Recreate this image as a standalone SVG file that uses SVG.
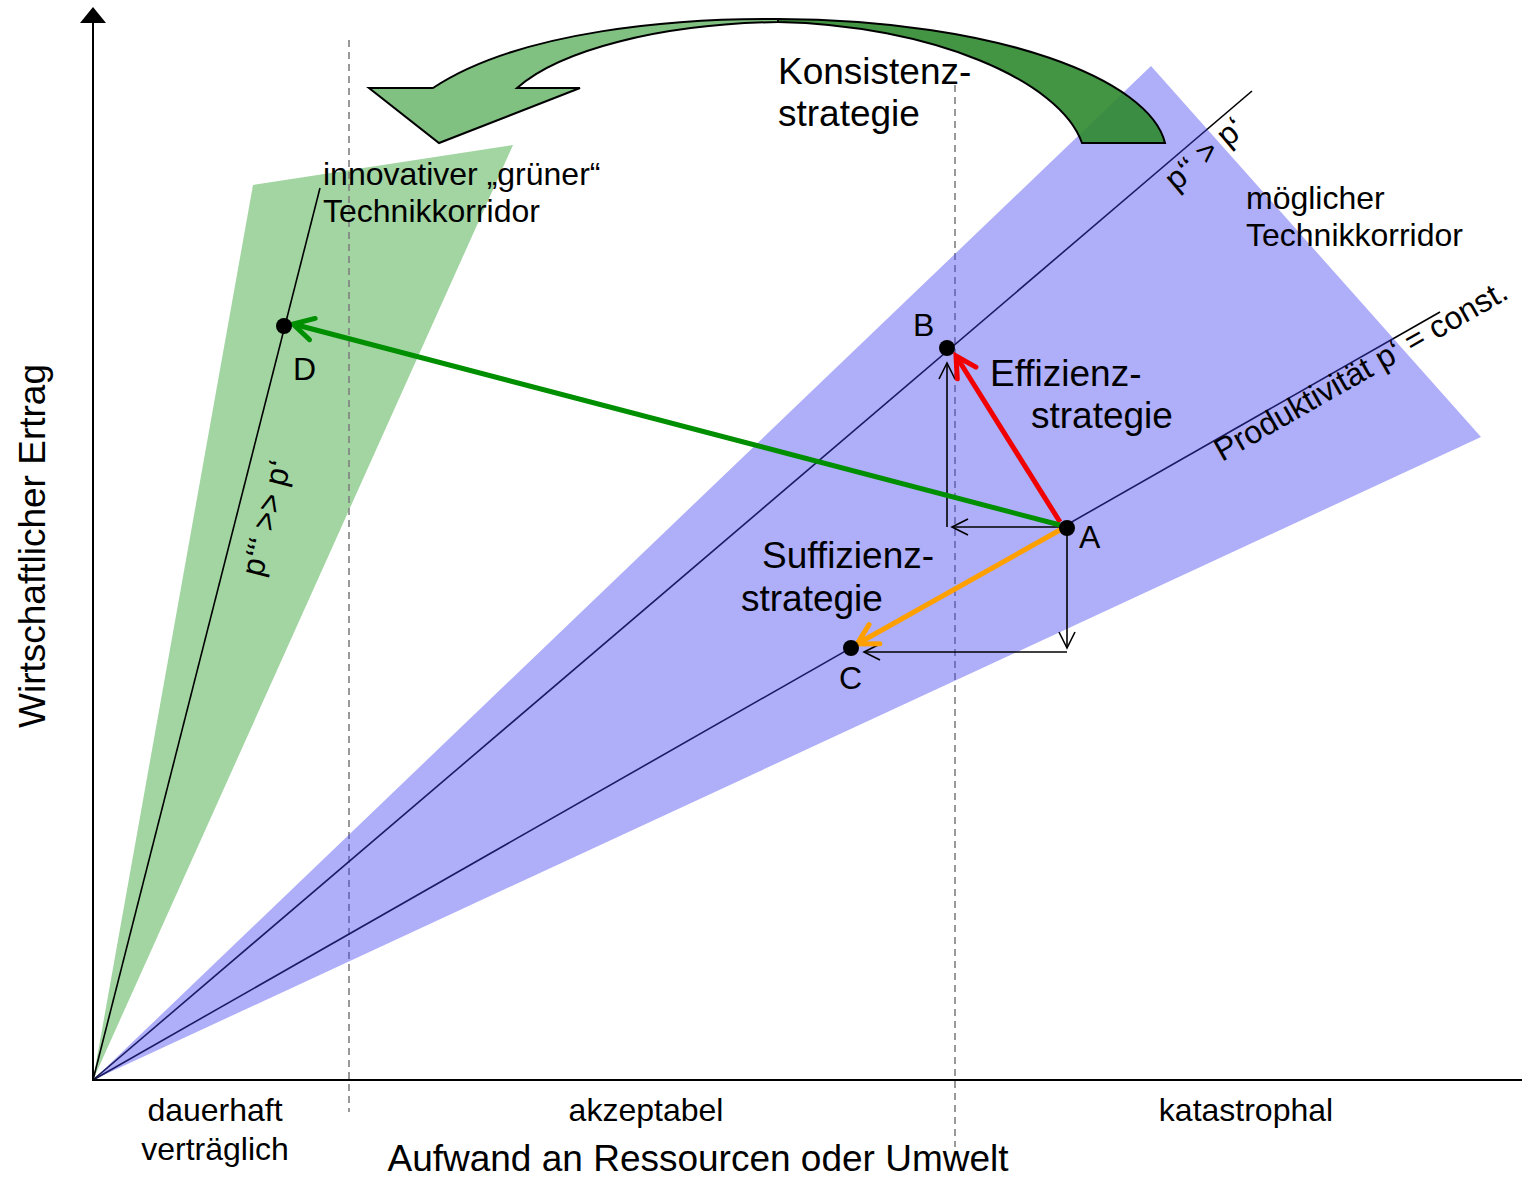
<svg xmlns="http://www.w3.org/2000/svg" width="1522" height="1179" viewBox="0 0 1522 1179">
<style>
text { font-family: "Liberation Sans", Arial, sans-serif; fill: #000; }
.big { font-size: 37px; }
.mid { font-size: 32px; }
.ray { stroke: #000; stroke-width: 1.6; fill: none; }
.dash { stroke: #808080; stroke-width: 1.6; stroke-dasharray: 7 5; fill: none; }
.thin { stroke: #000; stroke-width: 1.6; fill: none; marker-end: url(#open); }
.dot { fill: #000; }
</style>
<defs>
<marker id="open" markerUnits="userSpaceOnUse" markerWidth="24" markerHeight="24" viewBox="-20 -12 24 24" refX="0" refY="0" orient="auto">
<path d="M-16,-8 L0,0 L-16,8" fill="none" stroke="#000" stroke-width="1.6"/>
</marker>
<marker id="redHead" markerUnits="userSpaceOnUse" markerWidth="34" markerHeight="34" viewBox="-26 -17 34 34" refX="0" refY="0" orient="auto">
<path d="M-20,-11 L0,0 L-20,11" fill="none" stroke="#f00000" stroke-width="5" stroke-linecap="round"/>
</marker>
<marker id="orangeHead" markerUnits="userSpaceOnUse" markerWidth="34" markerHeight="34" viewBox="-26 -17 34 34" refX="0" refY="0" orient="auto">
<path d="M-20,-11 L0,0 L-20,11" fill="none" stroke="#ffa000" stroke-width="5" stroke-linecap="round"/>
</marker>
<marker id="greenHead" markerUnits="userSpaceOnUse" markerWidth="34" markerHeight="34" viewBox="-26 -17 34 34" refX="0" refY="0" orient="auto">
<path d="M-20,-11 L0,0 L-20,11" fill="none" stroke="#008f00" stroke-width="5" stroke-linecap="round"/>
</marker>
</defs>
<rect width="1522" height="1179" fill="#fff"/>

<g id="green-corridor">
<polygon points="93,1080 253,185 513,145" fill="#a2d5a2"/>
</g>

<g id="zone-borders">
<line class="dash" x1="349" y1="40" x2="349" y2="1112"/>
<line class="dash" x1="955" y1="85" x2="955" y2="1147"/>
</g>

<g id="rays">
<line class="ray" x1="93" y1="1080" x2="320" y2="188"/>
<line class="ray" x1="93" y1="1080" x2="1252" y2="91"/>
<line class="ray" x1="93" y1="1080" x2="1440" y2="312"/>
</g>

<g id="blue-corridor">
<polygon points="93,1080 1151,66 1481,437" fill="#3e3ef0" fill-opacity="0.42"/>
</g>

<g id="konsistenz-arrow">
<path d="M778,19 C680,18 520,30 433,88 L369,88 L439,143 L580,88 L517,88 C560,50 660,24 778,22 Z" fill="#80c080" stroke="#000" stroke-width="2"/>
<path d="M778,19 C1000,20 1150,80 1165,143 L1082,143 C1060,80 930,25 778,22 Z" fill="#2f8a2f" fill-opacity="0.9" stroke="#000" stroke-width="2"/>
</g>

<g id="axes">
<line x1="93" y1="1080" x2="93" y2="20" stroke="#000" stroke-width="2"/>
<polygon points="93,7 80,23 106,23" fill="#000"/>
<line x1="92" y1="1080" x2="1522" y2="1080" stroke="#000" stroke-width="2"/>
<text class="big" text-anchor="middle" transform="translate(45,546) rotate(-90)">Wirtschaftlicher Ertrag</text>
<text class="big" x="698" y="1171" text-anchor="middle">Aufwand an Ressourcen oder Umwelt</text>
<text class="mid" x="215" y="1121" text-anchor="middle">dauerhaft</text>
<text class="mid" x="215" y="1160" text-anchor="middle">verträglich</text>
<text class="mid" x="646" y="1121" text-anchor="middle">akzeptabel</text>
<text class="mid" x="1246" y="1121" text-anchor="middle">katastrophal</text>
</g>

<g id="labels">
<text class="big" x="778" y="84">Konsistenz-</text>
<text class="big" x="778" y="126">strategie</text>
<text class="big" x="990" y="386">Effizienz-</text>
<text class="big" x="1031" y="428">strategie</text>
<text class="big" x="762" y="568">Suffizienz-</text>
<text class="big" x="741" y="611">strategie</text>
<text class="mid" x="323" y="185">innovativer „grüner“</text>
<text class="mid" x="323" y="222">Technikkorridor</text>
<text class="mid" x="1246" y="209">möglicher</text>
<text class="mid" x="1246" y="246">Technikkorridor</text>
<text class="mid" transform="translate(1176,192) rotate(-40.5)">p‘‘ &gt; p‘</text>
<text class="mid" transform="translate(1222,462) rotate(-29.7)">Produktivität p‘ = const.</text>
<text class="mid" transform="translate(262,578) rotate(-75.7)">p‘‘‘ &gt;&gt; p‘</text>
</g>

<g id="connectors">
<line class="thin" x1="1062" y1="527" x2="952" y2="527"/>
<line class="thin" x1="947" y1="527" x2="947" y2="363"/>
<line class="thin" x1="1067" y1="532" x2="1067" y2="648"/>
<line class="thin" x1="1067" y1="652" x2="864" y2="652"/>
<line x1="1060" y1="522" x2="956" y2="356" stroke="#f00000" stroke-width="5" marker-end="url(#redHead)"/>
<line x1="1060" y1="530" x2="857" y2="644" stroke="#ffa000" stroke-width="5" marker-end="url(#orangeHead)"/>
<line x1="1060" y1="525" x2="293" y2="324" stroke="#008f00" stroke-width="5" marker-end="url(#greenHead)"/>
</g>

<g id="node-A"><circle class="dot" cx="1067" cy="528" r="8"/><text class="mid" x="1079" y="548">A</text></g>
<g id="node-B"><circle class="dot" cx="947" cy="348" r="8"/><text class="mid" x="913" y="336">B</text></g>
<g id="node-C"><circle class="dot" cx="851" cy="648" r="8"/><text class="mid" x="839" y="689">C</text></g>
<g id="node-D"><circle class="dot" cx="284" cy="326" r="8"/><text class="mid" x="293" y="380">D</text></g>
</svg>
